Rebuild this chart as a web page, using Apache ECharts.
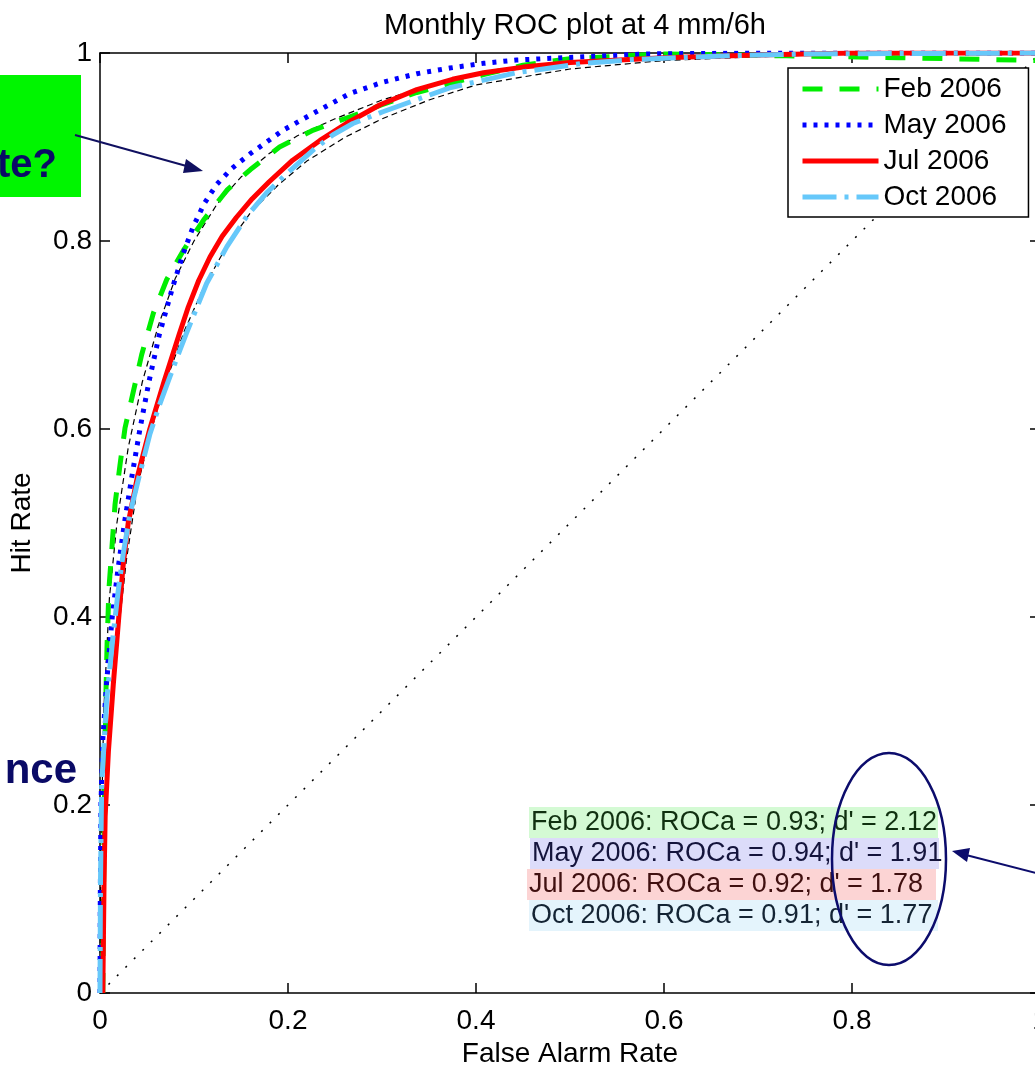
<!DOCTYPE html>
<html>
<head>
<meta charset="utf-8">
<script src="https://cdn.jsdelivr.net/npm/echarts@6/dist/echarts.min.js"></script>
<style>
html,body{margin:0;padding:0;background:#fff;}
#chart{width:1035px;height:1065px;}
</style>
</head>
<body>
<div id="chart"></div>
<script>
// ---- data ----
var titleText = 'Monthly ROC plot at 4 mm/6h';
var xName = 'False Alarm Rate';
var yName = 'Hit Rate';
var seriesNames = ['Feb 2006', 'May 2006', 'Jul 2006', 'Oct 2006'];
var rocArea = [0.93, 0.94, 0.92, 0.91];
var dPrime = [2.12, 1.91, 1.78, 1.77];

// [false alarm rate, hit rate]
var feb2006 = [[0.003,0],[0.0035,0.08],[0.0043,0.17],[0.0053,0.245],[0.0064,0.322],[0.0075,0.37],[0.0095,0.43],[0.0124,0.47],[0.016,0.52],[0.0213,0.562],[0.0266,0.601],[0.0355,0.64],[0.0443,0.679],[0.0567,0.723],[0.071,0.759],[0.0887,0.79],[0.11,0.822],[0.135,0.854],[0.16,0.876],[0.191,0.9],[0.227,0.918],[0.266,0.932],[0.3,0.945],[0.337,0.958],[0.408,0.977],[0.45,0.987],[0.5,0.994],[0.6,0.999],[0.73,0.997],[0.85,0.995],[1,0.992]];
var may2006 = [[0,0],[0.0003,0.1],[0.001,0.2],[0.003,0.27],[0.007,0.33],[0.013,0.4],[0.019,0.45],[0.026,0.5],[0.034,0.55],[0.0425,0.6],[0.052,0.65],[0.063,0.7],[0.077,0.75],[0.088,0.785],[0.099,0.815],[0.111,0.84],[0.124,0.86],[0.14,0.877],[0.16,0.893],[0.195,0.918],[0.23,0.9375],[0.266,0.957],[0.301,0.969],[0.337,0.978],[0.372,0.984],[0.408,0.989],[0.443,0.9925],[0.514,0.996],[0.58,0.999],[0.7,1],[1,1]];
var jul2006 = [[0.003,0],[0.0043,0.117],[0.0055,0.188],[0.009,0.258],[0.0142,0.329],[0.02,0.4],[0.0245,0.454],[0.03,0.5],[0.04,0.55],[0.053,0.6],[0.068,0.65],[0.084,0.7],[0.094,0.73],[0.105,0.758],[0.117,0.783],[0.13,0.805],[0.145,0.825],[0.162,0.845],[0.18,0.863],[0.205,0.886],[0.234,0.907],[0.262,0.925],[0.298,0.945],[0.337,0.961],[0.375,0.972],[0.408,0.979],[0.45,0.985],[0.5,0.99],[0.6,0.995],[0.7,0.998],[0.8,1],[1,1]];
var oct2006 = [[0,0],[0.0005,0.117],[0.0018,0.223],[0.0071,0.312],[0.0142,0.383],[0.0195,0.429],[0.0248,0.468],[0.0319,0.51],[0.0415,0.549],[0.0532,0.595],[0.0638,0.627],[0.0745,0.656],[0.085,0.684],[0.092,0.702],[0.1135,0.755],[0.135,0.794],[0.156,0.826],[0.177,0.851],[0.199,0.872],[0.227,0.897],[0.248,0.913],[0.269,0.925],[0.301,0.9375],[0.372,0.963],[0.443,0.979],[0.514,0.989],[0.567,0.993],[0.617,0.995],[0.67,0.997],[0.75,0.999],[1,1]];
// thin black empirical traces
var empiricalUpper = [[0,0],[0.001,0.15],[0.004,0.3],[0.01,0.42],[0.018,0.5],[0.03,0.58],[0.045,0.65],[0.062,0.71],[0.08,0.76],[0.1,0.8],[0.125,0.84],[0.15,0.868],[0.18,0.893],[0.21,0.912],[0.25,0.93],[0.3,0.95],[0.35,0.965],[0.4,0.977],[0.5,0.99],[0.6,0.996],[0.75,0.999],[1,1]];
var empiricalLower = [[0.002,0],[0.004,0.15],[0.01,0.27],[0.018,0.37],[0.028,0.46],[0.04,0.54],[0.055,0.6],[0.07,0.65],[0.09,0.705],[0.11,0.75],[0.135,0.795],[0.16,0.83],[0.19,0.86],[0.22,0.885],[0.26,0.91],[0.3,0.93],[0.35,0.95],[0.4,0.966],[0.5,0.983],[0.6,0.992],[0.7,0.996],[0.8,0.999],[1,1]];
var chanceLine = [[0,0],[1,1]];

var FONT = 'Liberation Sans, Arial, Helvetica, sans-serif';
var chart = echarts.init(document.getElementById('chart'), null, {renderer: 'canvas'});

function axisCommon(pos, showLabel) {
  return {
    type: 'value', min: 0, max: 1, interval: 0.2, position: pos,
    axisLine: {show: true, onZero: false, lineStyle: {color: '#000', width: 1.5}},
    axisTick: {show: true, inside: true, length: 10, lineStyle: {color: '#000', width: 1.5}},
    splitLine: {show: false},
    axisLabel: {show: showLabel, color: '#000', fontFamily: FONT, fontSize: 28, showMaxLabel: true, showMinLabel: true,
      hideOverlap: false,
      formatter: function (v) { return String(Math.round(v * 10) / 10); }}
  };
}
var xb = axisCommon('bottom', true);
xb.axisLabel.margin = 14;
xb.name = xName; xb.nameLocation = 'middle'; xb.nameGap = 42;
xb.nameTextStyle = {color: '#000', fontFamily: FONT, fontSize: 28};
var xt = axisCommon('top', false);
var yl = axisCommon('left', true);
yl.axisLabel.margin = 8;
yl.name = yName; yl.nameLocation = 'middle'; yl.nameGap = 64;
yl.nameTextStyle = {color: '#000', fontFamily: FONT, fontSize: 28};
var yr = axisCommon('right', false);

var colors = ['#00ee00', '#0000ff', '#ff0000', '#66c8fa'];
var dashes = [[20, 17], [4, 7], 'solid', [34, 8, 4, 8]];
var datasets = [feb2006, may2006, jul2006, oct2006];

var series = [
  {name: 'chance', type: 'line', data: chanceLine, symbol: 'none', silent: true,
   lineStyle: {color: '#000', width: 1.5, type: [2, 10]}, z: 1},
  {name: 'empUpper', type: 'line', data: empiricalUpper, symbol: 'none', silent: true,
   lineStyle: {color: '#000', width: 1.2, type: [6, 4]}, z: 1},
  {name: 'empLower', type: 'line', data: empiricalLower, symbol: 'none', silent: true,
   lineStyle: {color: '#000', width: 1.2, type: [6, 4]}, z: 1}
];
for (var i = 0; i < datasets.length; i++) {
  series.push({
    name: seriesNames[i], type: 'line', data: datasets[i], symbol: 'none', showSymbol: false,
    color: colors[i],
    lineStyle: {color: colors[i], width: 5, type: dashes[i], join: 'round'}, z: 3 + i
  });
}

// annotation rows
var rowBg = ['#d4fad4', '#dcdcfa', '#fcd4d4', '#e4f4fc'];
var rowFg = ['#103010', '#14143c', '#401010', '#142434'];
var rowX = [529, 530, 527, 529];
var graphics = [];
for (var k = 0; k < seriesNames.length; k++) {
  var y0 = 807 + k * 31;
  graphics.push({type: 'rect', shape: {x: rowX[k], y: y0, width: 409, height: 31}, style: {fill: rowBg[k]}, z: 50});
  graphics.push({type: 'text', x: rowX[k] + 2, y: y0 + 16, z: 51,
    style: {text: seriesNames[k] + ': ROCa = ' + rocArea[k].toFixed(2) + '; d\' = ' + dPrime[k].toFixed(2),
      fill: rowFg[k], font: '27px ' + FONT, textVerticalAlign: 'middle', textAlign: 'left'}});
}
// green callout box with arrow
graphics.push({type: 'rect', shape: {x: 0, y: 75, width: 81, height: 122}, style: {fill: '#00f500'}, z: 60});
graphics.push({type: 'text', z: 61, x: 57, y: 186, style: {text: 'te?', fill: '#0a0a66', font: 'bold 40px ' + FONT, textAlign: 'right', textVerticalAlign: 'bottom'}});
graphics.push({type: 'line', z: 60, shape: {x1: 75, y1: 135, x2: 190, y2: 167}, style: {stroke: '#101060', lineWidth: 2}});
graphics.push({type: 'polygon', z: 60, shape: {points: [[203, 171], [186, 159], [183, 173]]}, style: {fill: '#101060'}});
graphics.push({type: 'text', z: 61, x: 77, y: 792, style: {text: 'nce', fill: '#0a0a66', font: 'bold 42px ' + FONT, textAlign: 'right', textVerticalAlign: 'bottom'}});
// ellipse and arrow
graphics.push({type: 'ellipse', z: 70, shape: {cx: 889, cy: 859, rx: 57, ry: 106}, style: {fill: null, stroke: '#0c0c6c', lineWidth: 2.5}});
graphics.push({type: 'line', z: 70, shape: {x1: 1040, y1: 874, x2: 966, y2: 855}, style: {stroke: '#0c0c6c', lineWidth: 2}});
graphics.push({type: 'polygon', z: 70, shape: {points: [[952, 851], [970, 848], [967, 862]]}, style: {fill: '#0c0c6c'}});

var option = {
  backgroundColor: '#fff',
  animation: false,
  title: {text: titleText, left: 570, top: 6, textAlign: 'center',
    textStyle: {color: '#000', fontFamily: FONT, fontSize: 29, fontWeight: 'normal'}},
  grid: {left: 100, top: 53, width: 940, height: 940, containLabel: false, outerBoundsMode: 'none'},
  xAxis: [xb, xt],
  yAxis: [yl, yr],
  legend: {
    data: seriesNames, orient: 'vertical', left: 788, top: 68,
    padding: [7, 22, 6, 12], itemGap: 8, itemWidth: 76, itemHeight: 20,
    backgroundColor: '#fff', borderColor: '#000', borderWidth: 1.5, borderRadius: 0,
    itemStyle: {opacity: 0},
    lineStyle: {width: 5},
    textStyle: {color: '#000', fontFamily: FONT, fontSize: 28, lineHeight: 28},
    selectedMode: false
  },
  series: series,
  graphic: graphics
};
chart.setOption(option);
</script>
</body>
</html>
